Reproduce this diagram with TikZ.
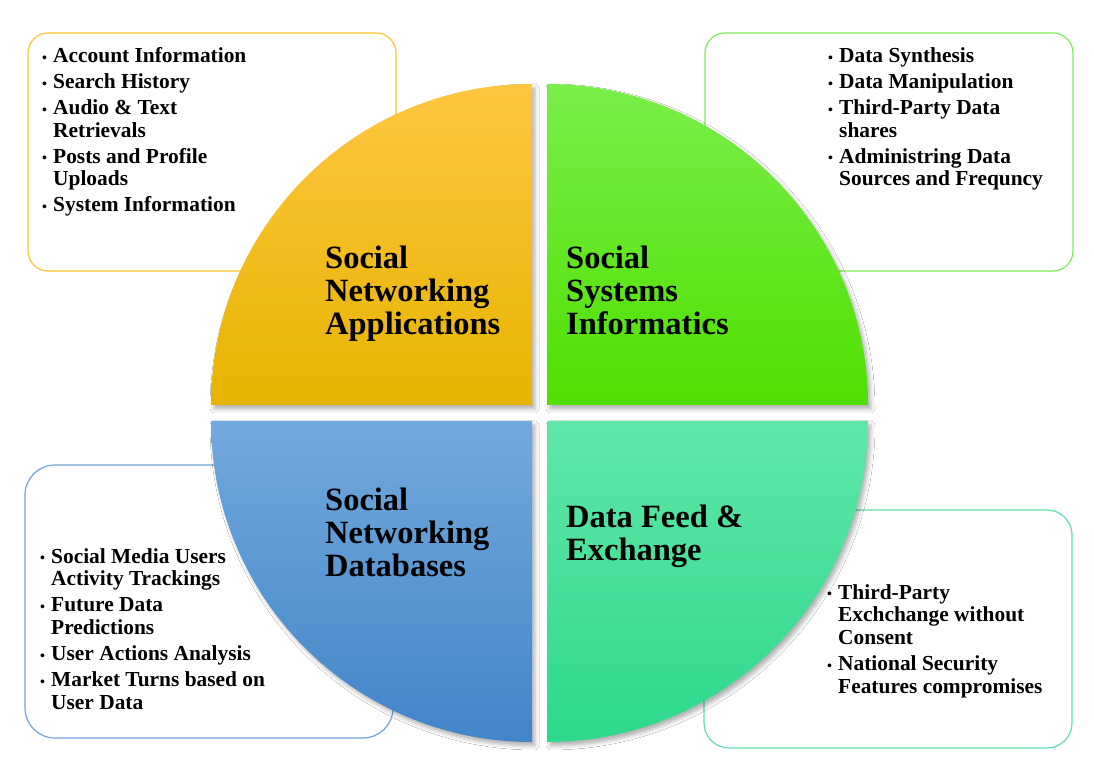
\documentclass[tikz,border=0pt]{standalone}
\usepackage{fontspec}
\setmainfont{Liberation Serif}
\usetikzlibrary{shadows.blur}

% quadrant fills (top / bottom of each gradient)
\definecolor{yelTop}{HTML}{FFC640}
\definecolor{yelBot}{HTML}{E6B400}
\definecolor{grnTop}{HTML}{7AEE4A}
\definecolor{grnBot}{HTML}{4FE000}
\definecolor{bluTop}{HTML}{73A9DD}
\definecolor{bluBot}{HTML}{4185C8}
\definecolor{tealTop}{HTML}{60E7A8}
\definecolor{tealBot}{HTML}{2DD98A}
% outline colours of the text boxes
\definecolor{yelLine}{HTML}{FFC62E}
\definecolor{grnLine}{HTML}{80EA5C}
\definecolor{bluLine}{HTML}{6FA5DA}
\definecolor{tealLine}{HTML}{62E0AA}

\newcommand{\bulletmark}{\makebox[11pt][l]{\fontsize{14}{14}\selectfont\raisebox{0.5pt}{\textbullet}}}
\newcommand{\cont}{\hspace*{11pt}}

\begin{document}
\begin{tikzpicture}[x=1pt,y=1pt,
  infobox/.style={draw=#1, line width=1.2pt, fill=white, inner sep=0pt},
  quadrant/.style 2 args={top color=#1, bottom color=#2,
    blur shadow={shadow xshift=3pt, shadow yshift=-4pt,
                 shadow blur radius=4pt, shadow opacity=30}},
  heading/.style={anchor=base west, inner sep=0pt,
    font=\fontsize{32.5}{33}\selectfont\bfseries},
  bullets/.style={anchor=base west, inner sep=0pt,
    font=\fontsize{21.4}{22.6}\selectfont\bfseries}]

\useasboundingbox (0,0) rectangle (1094,769);
\fill[white] (0,0) rectangle (1094,769);

% rounded text boxes, partly covered by the circle
\node[infobox=yelLine, rounded corners=20pt, minimum width=368, minimum height=238] (tlbox) at (212,617) {};
\node[infobox=grnLine, rounded corners=20pt, minimum width=368, minimum height=238] (trbox) at (889,617) {};
\node[infobox=bluLine, rounded corners=30pt, minimum width=368, minimum height=273] (blbox) at (209,167.5) {};
\node[infobox=tealLine, rounded corners=25pt, minimum width=368, minimum height=238] (brbox) at (888,140) {};

% the four quarter discs
\path[quadrant={yelTop}{yelBot}] (532,364) -- (532,685) arc[start angle=90, end angle=180, radius=321] -- cycle;
\path[quadrant={grnTop}{grnBot}] (547,364) -- (547,685) arc[start angle=90, end angle=0, radius=321] -- cycle;
\path[quadrant={bluTop}{bluBot}] (532,348) -- (211,348) arc[start angle=180, end angle=270, radius=321] -- cycle;
\path[quadrant={tealTop}{tealBot}] (547,348) -- (868,348) arc[start angle=0, end angle=-90, radius=321] -- cycle;

% quadrant headings
\node[heading] (tlhead) at (325,500) {\parbox[t]{200pt}{\raggedright Social\\Networking\\Applications}};
\node[heading] (trhead) at (566,500) {\parbox[t]{200pt}{\raggedright Social\\Systems\\Informatics}};
\node[heading] (blhead) at (325,259) {\parbox[t]{200pt}{\raggedright Social\\Networking\\Databases}};
\node[heading] (brhead) at (566,242) {\parbox[t]{200pt}{\raggedright Data Feed \&\\Exchange}};

% bullet lists
\node[bullets] (tllist) at (42,706.3) {\parbox[t]{300pt}{\raggedright
  \bulletmark Account Information\\[3.4pt]
  \bulletmark Search History\\[3.4pt]
  \bulletmark Audio \& Text\\
  \cont Retrievals\\[3.4pt]
  \bulletmark Posts and Profile\\
  \cont Uploads\\[3.4pt]
  \bulletmark System Information}};

\node[bullets] (trlist) at (828,706.3) {\parbox[t]{300pt}{\raggedright
  \bulletmark Data Synthesis\\[3.4pt]
  \bulletmark Data Manipulation\\[3.4pt]
  \bulletmark Third-Party Data\\
  \cont shares\\[3.4pt]
  \bulletmark Administring Data\\
  \cont Sources and Frequncy}};

\node[bullets] (bllist) at (40,205.7) {\parbox[t]{300pt}{\raggedright
  \bulletmark Social Media Users\\
  \cont Activity Trackings\\[3.4pt]
  \bulletmark Future Data\\
  \cont Predictions\\[3.4pt]
  \bulletmark User Actions Analysis\\[3.4pt]
  \bulletmark Market Turns based on\\
  \cont User Data}};

\node[bullets] (brlist) at (827,169.7) {\parbox[t]{300pt}{\raggedright
  \bulletmark Third-Party\\
  \cont Exchchange without\\
  \cont Consent\\[3.4pt]
  \bulletmark National Security\\
  \cont Features compromises}};

\end{tikzpicture}
\end{document}
